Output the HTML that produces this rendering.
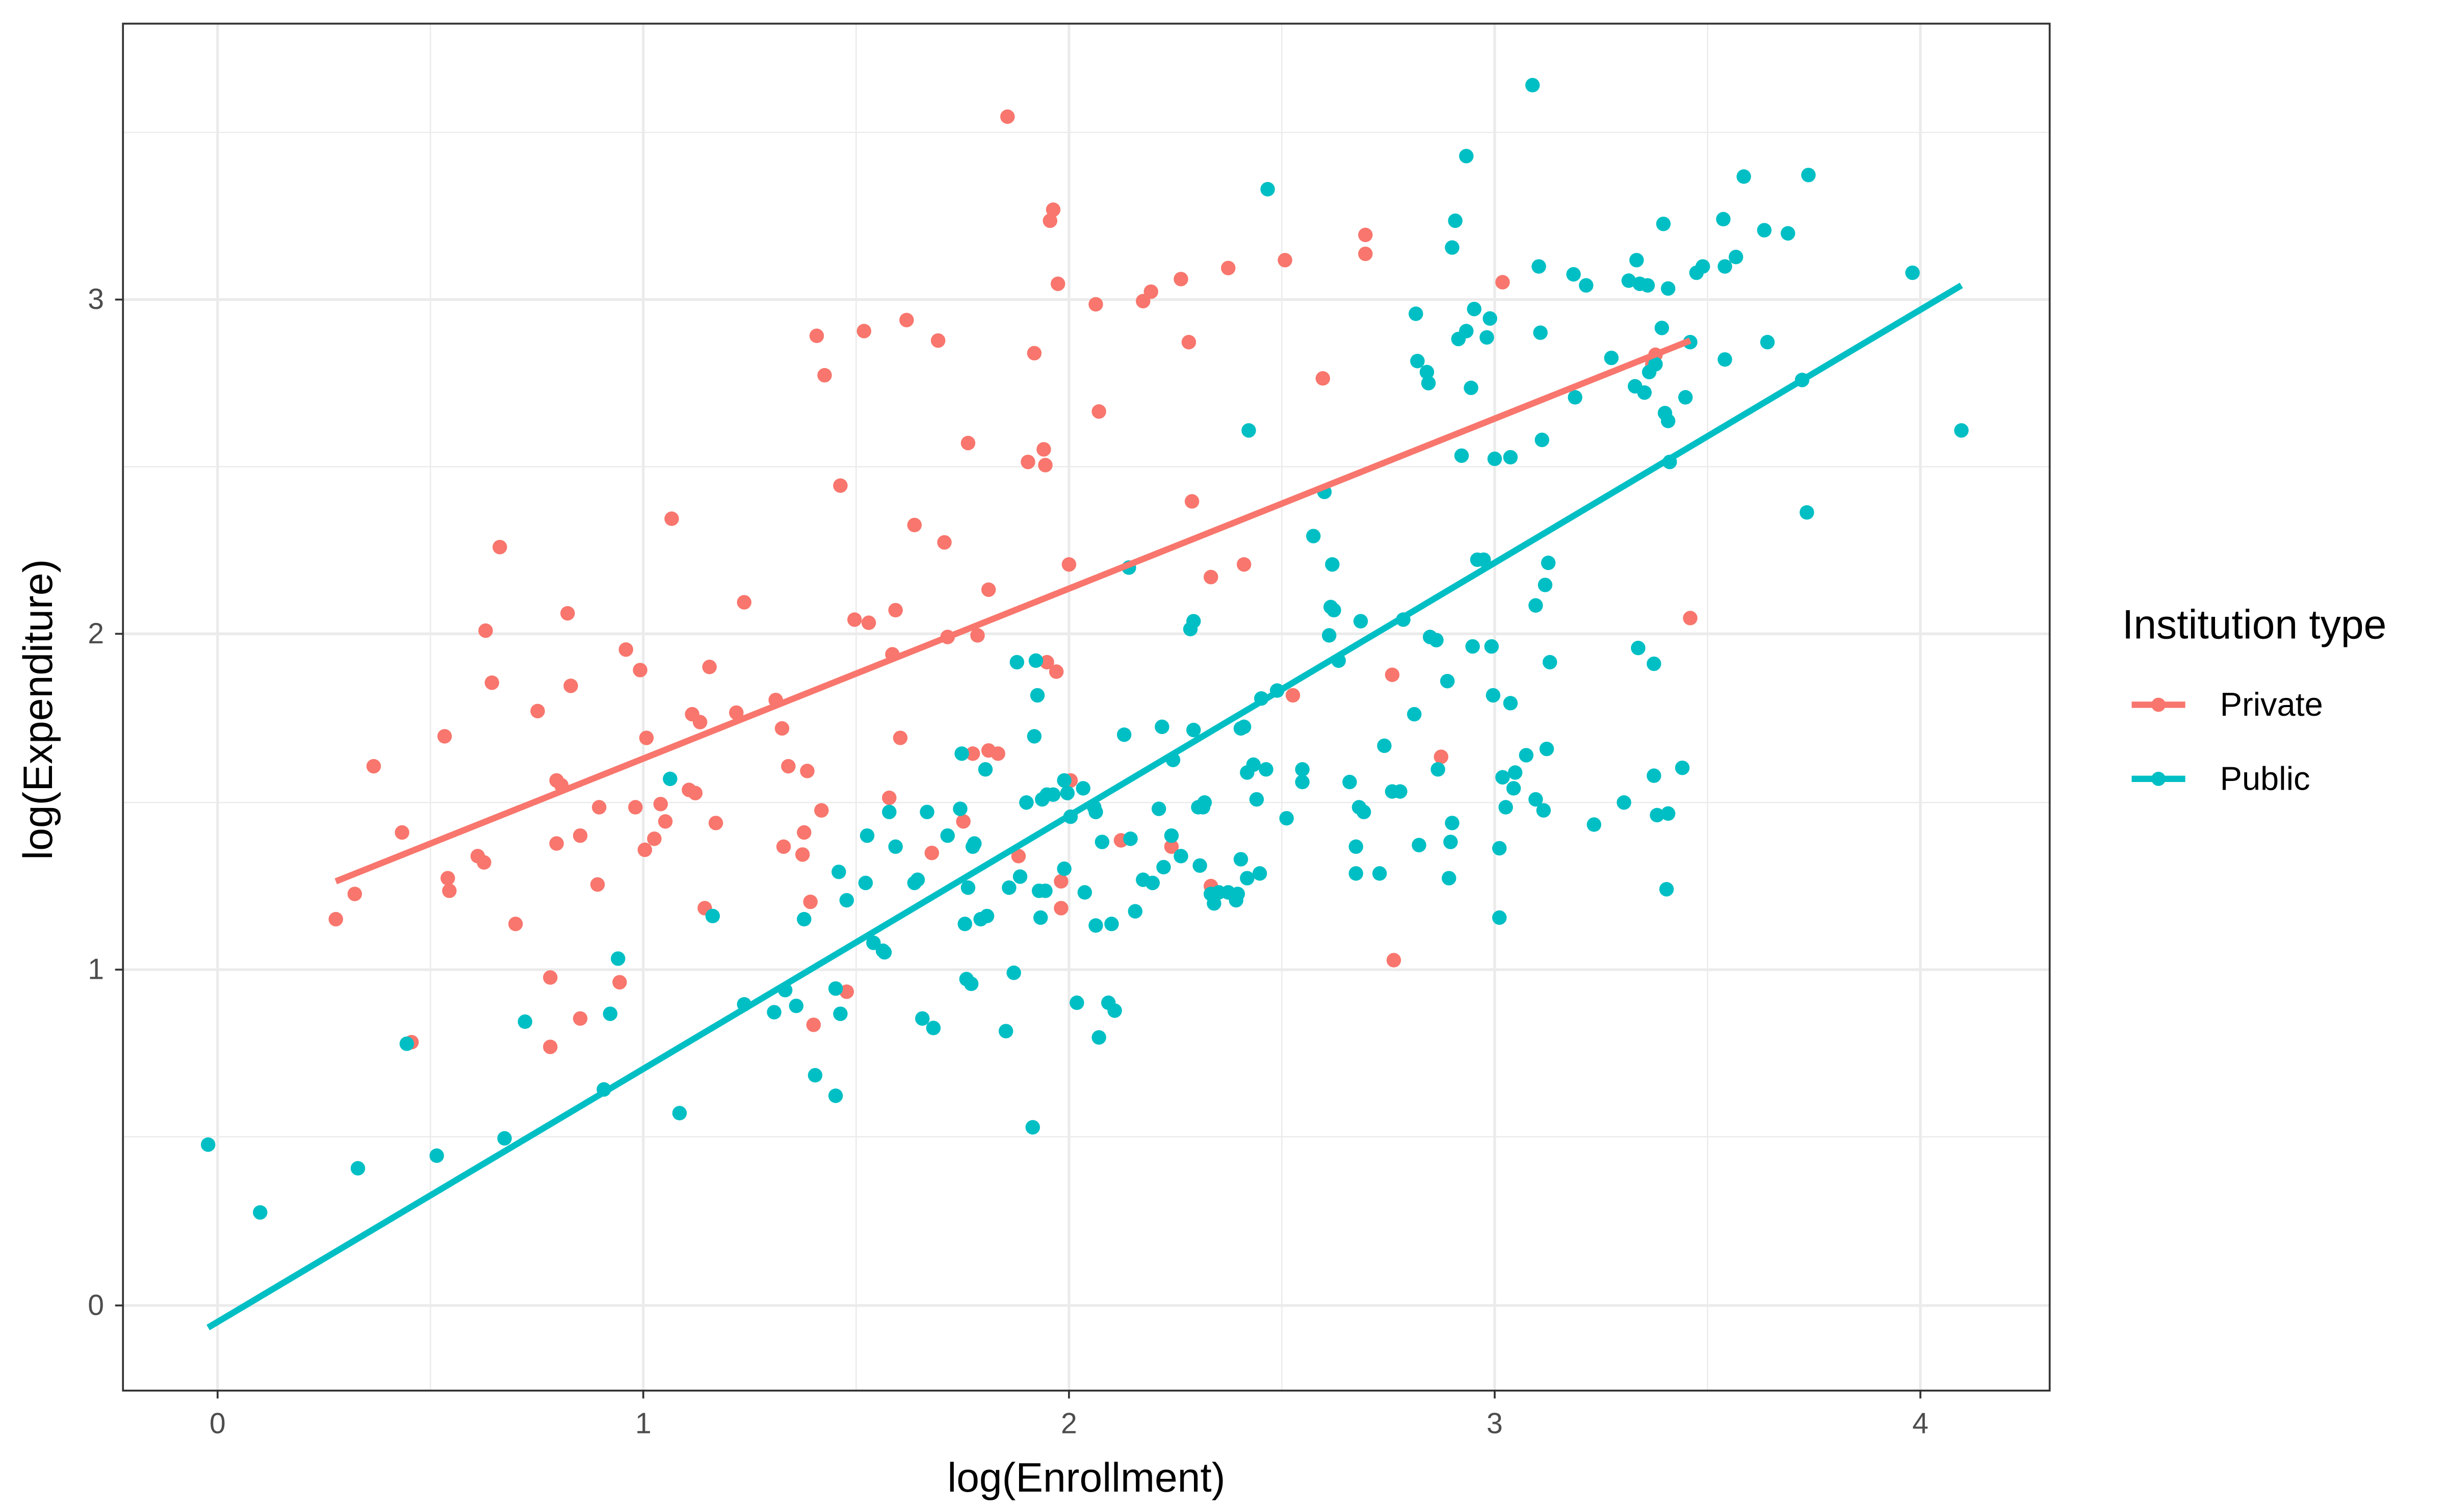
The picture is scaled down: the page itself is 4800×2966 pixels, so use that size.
<!DOCTYPE html>
<html><head><meta charset="utf-8"><style>html,body{margin:0;padding:0;background:#fff}svg{display:block}</style></head>
<body>
<svg width="4800" height="2966" viewBox="0 0 1552 959" xmlns="http://www.w3.org/2000/svg" font-family="Liberation Sans, Arial, sans-serif">
<rect width="1552" height="959" fill="#fff"/>
<g stroke="#ebebeb" stroke-width="0.8">
<line x1="273" y1="15" x2="273" y2="882"/><line x1="543" y1="15" x2="543" y2="882"/><line x1="813" y1="15" x2="813" y2="882"/><line x1="1083" y1="15" x2="1083" y2="882"/>
<line x1="78" y1="721" x2="1300" y2="721"/><line x1="78" y1="509" x2="1300" y2="509"/><line x1="78" y1="296" x2="1300" y2="296"/><line x1="78" y1="84" x2="1300" y2="84"/>
</g>
<g stroke="#ebebeb" stroke-width="1.7">
<line x1="138" y1="15" x2="138" y2="882"/><line x1="408" y1="15" x2="408" y2="882"/><line x1="678" y1="15" x2="678" y2="882"/><line x1="948" y1="15" x2="948" y2="882"/><line x1="1218" y1="15" x2="1218" y2="882"/>
<line x1="78" y1="828" x2="1300" y2="828"/><line x1="78" y1="615" x2="1300" y2="615"/><line x1="78" y1="402" x2="1300" y2="402"/><line x1="78" y1="190" x2="1300" y2="190"/>
</g>
<path fill="none" stroke="#F8766D" stroke-width="9.2" stroke-linecap="round" d="M213 583h0M225 567h0M237 486h0M255 528h0M261 661h0M282 467h0M284 557h0M285 565h0M303 543h0M307 547h0M308 400h0M312 433h0M317 347h0M327 586h0M341 451h0M349 620h0M349 664h0M353 495h0M353 535h0M356 498h0M360 389h0M362 435h0M368 530h0M368 646h0M379 561h0M380 512h0M393 623h0M397 412h0M403 512h0M406 425h0M409 539h0M410 468h0M415 532h0M419 510h0M422 521h0M426 329h0M437 501h0M439 453h0M441 503h0M444 458h0M447 576h0M450 423h0M454 522h0M467 452h0M472 382h0M492 444h0M496 462h0M497 537h0M500 486h0M509 542h0M510 528h0M512 489h0M514 572h0M516 650h0M518 213h0M521 514h0M523 238h0M533 308h0M537 629h0M542 393h0M548 210h0M551 395h0M564 506h0M566 415h0M568 387h0M571 468h0M575 203h0M580 333h0M591 541h0M595 216h0M599 344h0M601 404h0M611 521h0M614 281h0M617 478h0M620 403h0M627 476h0M627 374h0M633 478h0M639 74h0M646 543h0M652 293h0M656 224h0M662 285h0M663 295h0M664 420h0M666 140h0M668 133h0M670 426h0M671 180h0M673 576h0M673 559h0M678 358h0M679 495h0M695 193h0M697 261h0M711 533h0M725 191h0M730 185h0M743 537h0M749 177h0M754 217h0M756 318h0M768 366h0M768 562h0M779 170h0M789 358h0M815 165h0M820 441h0M839 240h0M866 149h0M866 161h0M883 428h0M884 609h0M914 480h0M953 179h0M1048 231h0M1050 225h0M1072 392h0"/>
<path fill="none" stroke="#00BFC4" stroke-width="9.2" stroke-linecap="round" d="M132 726h0M165 769h0M227 741h0M258 662h0M277 733h0M320 722h0M333 648h0M383 691h0M387 643h0M392 608h0M425 494h0M431 706h0M452 581h0M472 637h0M491 642h0M498 628h0M505 638h0M510 583h0M517 682h0M530 695h0M530 627h0M532 553h0M533 643h0M537 571h0M549 560h0M550 530h0M554 598h0M560 603h0M561 604h0M564 515h0M568 537h0M580 560h0M582 558h0M585 646h0M588 515h0M592 652h0M601 530h0M609 513h0M610 478h0M612 586h0M613 621h0M614 563h0M616 624h0M617 537h0M618 535h0M622 583h0M625 488h0M626 581h0M638 654h0M640 563h0M643 617h0M645 420h0M647 556h0M651 509h0M655 715h0M656 467h0M657 419h0M658 441h0M659 565h0M660 582h0M661 507h0M663 565h0M664 504h0M668 504h0M675 495h0M675 551h0M677 503h0M679 518h0M683 636h0M687 500h0M688 566h0M694 512h0M695 515h0M695 587h0M697 658h0M699 534h0M703 636h0M705 586h0M707 641h0M713 466h0M716 360h0M717 532h0M720 578h0M725 558h0M731 560h0M735 513h0M737 461h0M738 550h0M743 530h0M744 482h0M749 543h0M755 399h0M757 394h0M757 463h0M760 512h0M761 549h0M763 512h0M764 509h0M768 567h0M770 573h0M773 566h0M779 566h0M784 571h0M785 567h0M787 545h0M787 462h0M789 461h0M791 490h0M791 557h0M792 273h0M795 485h0M797 507h0M799 554h0M800 443h0M803 488h0M804 120h0M810 438h0M816 519h0M826 488h0M826 496h0M833 340h0M840 312h0M843 403h0M844 385h0M845 358h0M846 387h0M849 419h0M856 496h0M860 537h0M860 554h0M862 512h0M863 394h0M865 515h0M875 554h0M878 473h0M883 502h0M888 502h0M890 393h0M897 453h0M898 199h0M899 229h0M900 536h0M905 236h0M906 243h0M907 404h0M911 406h0M912 488h0M918 432h0M919 557h0M920 534h0M921 522h0M921 157h0M923 140h0M925 215h0M927 289h0M930 99h0M930 210h0M933 246h0M934 410h0M935 196h0M937 355h0M941 355h0M943 214h0M945 202h0M946 410h0M947 441h0M948 291h0M951 582h0M951 538h0M953 493h0M955 512h0M958 446h0M958 290h0M960 500h0M961 490h0M968 479h0M972 54h0M974 384h0M974 507h0M976 169h0M977 211h0M978 279h0M979 514h0M980 371h0M982 357h0M981 475h0M983 420h0M999 252h0M998 174h0M1006 181h0M1011 523h0M1022 227h0M1030 509h0M1033 178h0M1037 245h0M1038 165h0M1039 411h0M1040 180h0M1043 249h0M1045 181h0M1046 236h0M1049 421h0M1050 231h0M1049 492h0M1051 517h0M1054 208h0M1055 142h0M1056 262h0M1058 516h0M1057 564h0M1058 267h0M1058 183h0M1059 293h0M1067 487h0M1069 252h0M1072 217h0M1076 173h0M1080 169h0M1093 139h0M1094 228h0M1094 169h0M1101 163h0M1106 112h0M1119 146h0M1134 148h0M1121 217h0M1143 241h0M1147 111h0M1146 325h0M1213 173h0M1244 273h0"/>
<line x1="213" y1="559" x2="1072" y2="216" stroke="#F8766D" stroke-width="4"/>
<line x1="132" y1="842" x2="1244" y2="181" stroke="#00BFC4" stroke-width="4"/>
<rect x="78" y="15" width="1222" height="867" fill="none" stroke="#333" stroke-width="1.2"/>
<g stroke="#333" stroke-width="1.2">
<line x1="138" y1="882" x2="138" y2="887"/><line x1="408" y1="882" x2="408" y2="887"/><line x1="678" y1="882" x2="678" y2="887"/><line x1="948" y1="882" x2="948" y2="887"/><line x1="1218" y1="882" x2="1218" y2="887"/>
<line x1="73" y1="828" x2="78" y2="828"/><line x1="73" y1="615" x2="78" y2="615"/><line x1="73" y1="402" x2="78" y2="402"/><line x1="73" y1="190" x2="78" y2="190"/>
</g>
<g fill="#4d4d4d" font-size="18.5" text-anchor="middle">
<text x="138" y="909">0</text><text x="408" y="909">1</text><text x="678" y="909">2</text><text x="948" y="909">3</text><text x="1218" y="909">4</text>
</g>
<g fill="#4d4d4d" font-size="18.5" text-anchor="end">
<text x="66" y="834">0</text><text x="66" y="621">1</text><text x="66" y="408">2</text><text x="66" y="196">3</text>
</g>
<text x="689" y="946" font-size="26" text-anchor="middle" fill="#000">log(Enrollment)</text>
<text transform="translate(33,450) rotate(-90)" font-size="26" text-anchor="middle" fill="#000">log(Expenditure)</text>
<text x="1346" y="405" font-size="26" fill="#000">Institution type</text>
<line x1="1352" y1="447" x2="1386" y2="447" stroke="#F8766D" stroke-width="4"/><circle cx="1369" cy="447" r="4.5" fill="#F8766D"/>
<line x1="1352" y1="494" x2="1386" y2="494" stroke="#00BFC4" stroke-width="4"/><circle cx="1369" cy="494" r="4.5" fill="#00BFC4"/>
<text x="1408" y="454" font-size="21" fill="#000">Private</text>
<text x="1408" y="501" font-size="21" fill="#000">Public</text>
</svg>
</body></html>
